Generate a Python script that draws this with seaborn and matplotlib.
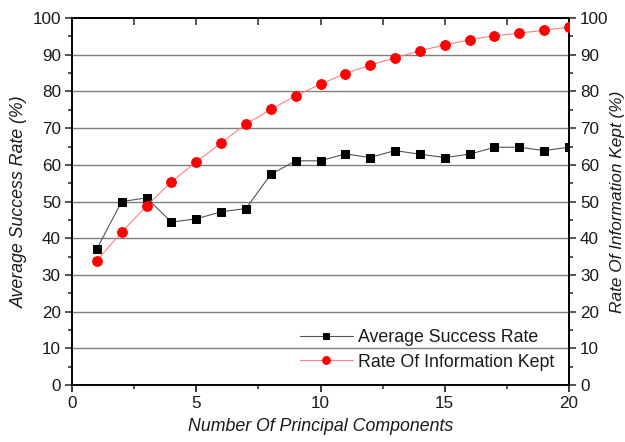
import numpy as np
import pandas as pd
import matplotlib
matplotlib.use("Agg")
import matplotlib.pyplot as plt
from matplotlib.ticker import MultipleLocator
import seaborn as sns

components = list(range(1, 21))
success_rate = [37.1, 50.0, 51.0, 44.4, 45.3, 47.2, 48.1, 57.4, 61.1, 61.1,
                63.0, 62.0, 63.9, 62.9, 62.0, 62.9, 64.8, 64.8, 63.9, 64.8]
info_kept = [33.9, 41.7, 48.8, 55.4, 60.8, 66.0, 71.1, 75.1, 78.8, 82.0,
             84.9, 87.2, 89.2, 91.1, 92.7, 94.1, 95.2, 95.9, 96.7, 97.5]

df = pd.DataFrame({"n": components, "success": success_rate, "info": info_kept})

sns.set_theme(style="white")
plt.rcParams["font.family"] = ["Liberation Sans", "DejaVu Sans"]

fig = plt.figure(figsize=(6.25, 4.42), dpi=100)
ax = fig.add_axes([0.1152, 0.129, 0.7952, 0.830])
ax2 = ax.twinx()

for a in (ax, ax2):
    a.set_xlim(0, 20)
    a.set_ylim(0, 100)

# horizontal grid at every 10 %
for yv in range(10, 100, 10):
    ax.axhline(yv, color="#7f7f7f", lw=1.0, zorder=0)

sns.lineplot(data=df, x="n", y="success", ax=ax, color="#555555", lw=0.8,
             marker="s", markersize=6, markerfacecolor="black",
             markeredgecolor="black", label="Average Success Rate",
             legend=False, zorder=3)
sns.lineplot(data=df, x="n", y="info", ax=ax2, color="#ff8080", lw=0.8,
             marker="o", markersize=7, markerfacecolor="red",
             markeredgecolor="red", label="Rate Of Information Kept",
             legend=False, zorder=3)

lab_kw = dict(fontsize=12.8, style="italic", color="#1a1a1a")
ax.set_xlabel("Number Of Principal Components", labelpad=5, **lab_kw)
ax.set_ylabel("Average Success Rate (%)", labelpad=3, **lab_kw)
ax2.set_ylabel("Rate Of Information Kept (%)", labelpad=1, fontsize=12.4,
               style="italic", color="#1a1a1a")

ax.xaxis.set_major_locator(MultipleLocator(5))
ax.xaxis.set_minor_locator(MultipleLocator(2.5))
for a in (ax, ax2):
    a.yaxis.set_major_locator(MultipleLocator(10))
    a.yaxis.set_minor_locator(MultipleLocator(5))

tick_kw = dict(labelsize=12.3, labelcolor="#1a1a1a")
ax.tick_params(axis="x", which="major", direction="out", length=5, width=1.1,
               top=False, bottom=True, colors="black", pad=3, **tick_kw)
ax.tick_params(axis="x", which="minor", direction="out", length=3, width=1.1,
               bottom=True, top=False)
ax.tick_params(axis="y", which="major", direction="out", length=5, width=1.1,
               left=True, pad=3, **tick_kw)
ax.tick_params(axis="y", which="minor", direction="out", length=3, width=1.1, left=True)
ax2.tick_params(axis="y", which="major", direction="out", length=5, width=1.1,
                right=True, pad=3, **tick_kw)
ax2.tick_params(axis="y", which="minor", direction="out", length=3, width=1.1, right=True)
ax2.tick_params(axis="x", which="both", top=False, bottom=False)

# inward ticks along the top edge
secx = ax.secondary_xaxis("top")
secx.xaxis.set_major_locator(MultipleLocator(2.5))
secx.tick_params(axis="x", direction="in", length=5, width=1.1, labeltop=False)

for a in (ax, ax2):
    for s in a.spines.values():
        s.set_color("black")
        s.set_linewidth(1.2)
for s in secx.spines.values():
    s.set_linewidth(1.2)

h1, l1 = ax.get_legend_handles_labels()
h2, l2 = ax2.get_legend_handles_labels()
leg = ax2.legend(h1 + h2, l1 + l2, loc="lower right", bbox_to_anchor=(0.985, 0.02),
                 frameon=False, fontsize=12.8, handlelength=3.0, handletextpad=0.3,
                 labelspacing=0.4, borderaxespad=0.0, markerscale=0.8)
for t in leg.get_texts():
    t.set_color("#1a1a1a")

fig.savefig("out.png", dpi=100)
